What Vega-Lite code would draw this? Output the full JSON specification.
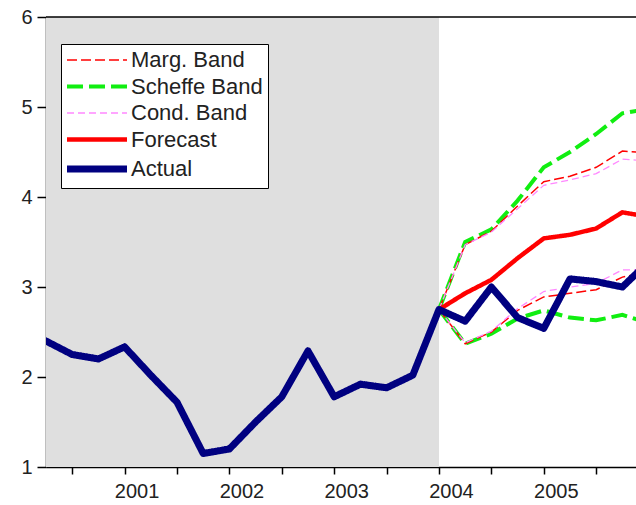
{
  "$schema": "https://vega.github.io/schema/vega-lite/v6.json",
  "width": 590,
  "height": 450,
  "autosize": {"type": "none"},
  "padding": {"left": 46, "top": 17, "right": 0, "bottom": 38},
  "background": "white",
  "config": {
    "view": {"stroke": null},
    "axisX": {"values": [2000.25, 2000.5, 2000.75, 2001, 2001.25, 2001.5, 2001.75, 2002, 2002.25, 2002.5, 2002.75, 2003, 2003.25, 2003.5, 2003.75, 2004, 2004.25, 2004.5, 2004.75, 2005, 2005.25, 2005.5, 2005.75],
      "labelExpr": "datum.value % 1 == 0 ? format(datum.value, 'd') : ''",
      "labelOffset": 12, "tickSize": 7, "labelPadding": 7, "labelFontSize": 20, "labelFont": "Liberation Sans", "labelColor": "#222",
      "domainColor": "black", "tickColor": "black", "domainWidth": 1.5, "tickWidth": 1.5, "grid": false, "title": null, "labelOverlap": false, "labelFlush": false},
    "axisY": {"values": [1, 2, 3, 4, 5, 6], "tickCount": 5, "format": "d", "labelExpr": "format(datum.value, 'd')", "tickSize": 9, "labelPadding": 5, "labelFontSize": 20, "labelFont": "Liberation Sans", "labelColor": "#222",
      "domainColor": "black", "tickColor": "black", "domainWidth": 1.5, "tickWidth": 1.5, "grid": false, "title": null, "labelOverlap": false, "labelFlush": false},
    "legend": {
      "orient": "none",
      "legendX": 15,
      "legendY": 27,
      "title": null,
      "symbolType": "M-2,0H10",
      "symbolSize": 100,
      "labelFont": "Liberation Sans",
      "labelFontSize": 22,
      "labelColor": "#222",
      "labelOffset": 43,
      "strokeColor": "black",
      "fillColor": "white",
      "padding": 5,
      "rowPadding": 4.5
    }
  },
  "datasets": {
    "shade": [{"a": 2000.25, "b": 2004.0}],
    "lines": [
      {"s": "Actual", "p": "a", "t": 2000.25, "v": 2.40},
      {"s": "Actual", "p": "a", "t": 2000.5, "v": 2.25},
      {"s": "Actual", "p": "a", "t": 2000.75, "v": 2.20},
      {"s": "Actual", "p": "a", "t": 2001.0, "v": 2.335},
      {"s": "Actual", "p": "a", "t": 2001.25, "v": 2.02},
      {"s": "Actual", "p": "a", "t": 2001.5, "v": 1.72},
      {"s": "Actual", "p": "a", "t": 2001.75, "v": 1.15},
      {"s": "Actual", "p": "a", "t": 2002.0, "v": 1.20},
      {"s": "Actual", "p": "a", "t": 2002.25, "v": 1.50},
      {"s": "Actual", "p": "a", "t": 2002.5, "v": 1.78},
      {"s": "Actual", "p": "a", "t": 2002.75, "v": 2.29},
      {"s": "Actual", "p": "a", "t": 2003.0, "v": 1.78},
      {"s": "Actual", "p": "a", "t": 2003.25, "v": 1.92},
      {"s": "Actual", "p": "a", "t": 2003.5, "v": 1.88},
      {"s": "Actual", "p": "a", "t": 2003.75, "v": 2.02},
      {"s": "Actual", "p": "a", "t": 2004.0, "v": 2.75},
      {"s": "Actual", "p": "a", "t": 2004.25, "v": 2.62},
      {"s": "Actual", "p": "a", "t": 2004.5, "v": 3.00},
      {"s": "Actual", "p": "a", "t": 2004.75, "v": 2.66},
      {"s": "Actual", "p": "a", "t": 2005.0, "v": 2.54},
      {"s": "Actual", "p": "a", "t": 2005.25, "v": 3.09},
      {"s": "Actual", "p": "a", "t": 2005.5, "v": 3.06},
      {"s": "Actual", "p": "a", "t": 2005.75, "v": 3.00},
      {"s": "Actual", "p": "a", "t": 2006.0, "v": 3.28},

      {"s": "Forecast", "p": "f", "t": 2004.0, "v": 2.75},
      {"s": "Forecast", "p": "f", "t": 2004.25, "v": 2.93},
      {"s": "Forecast", "p": "f", "t": 2004.5, "v": 3.08},
      {"s": "Forecast", "p": "f", "t": 2004.75, "v": 3.32},
      {"s": "Forecast", "p": "f", "t": 2005.0, "v": 3.54},
      {"s": "Forecast", "p": "f", "t": 2005.25, "v": 3.58},
      {"s": "Forecast", "p": "f", "t": 2005.5, "v": 3.65},
      {"s": "Forecast", "p": "f", "t": 2005.75, "v": 3.83},
      {"s": "Forecast", "p": "f", "t": 2006.0, "v": 3.78},

      {"s": "Scheffe Band", "p": "u", "t": 2004.0, "v": 2.75},
      {"s": "Scheffe Band", "p": "u", "t": 2004.25, "v": 3.50},
      {"s": "Scheffe Band", "p": "u", "t": 2004.5, "v": 3.64},
      {"s": "Scheffe Band", "p": "u", "t": 2004.75, "v": 3.96},
      {"s": "Scheffe Band", "p": "u", "t": 2005.0, "v": 4.33},
      {"s": "Scheffe Band", "p": "u", "t": 2005.25, "v": 4.50},
      {"s": "Scheffe Band", "p": "u", "t": 2005.5, "v": 4.70},
      {"s": "Scheffe Band", "p": "u", "t": 2005.75, "v": 4.93},
      {"s": "Scheffe Band", "p": "u", "t": 2006.0, "v": 4.98},
      {"s": "Scheffe Band", "p": "l", "t": 2004.0, "v": 2.75},
      {"s": "Scheffe Band", "p": "l", "t": 2004.25, "v": 2.37},
      {"s": "Scheffe Band", "p": "l", "t": 2004.5, "v": 2.48},
      {"s": "Scheffe Band", "p": "l", "t": 2004.75, "v": 2.65},
      {"s": "Scheffe Band", "p": "l", "t": 2005.0, "v": 2.74},
      {"s": "Scheffe Band", "p": "l", "t": 2005.25, "v": 2.66},
      {"s": "Scheffe Band", "p": "l", "t": 2005.5, "v": 2.63},
      {"s": "Scheffe Band", "p": "l", "t": 2005.75, "v": 2.69},
      {"s": "Scheffe Band", "p": "l", "t": 2006.0, "v": 2.60},

      {"s": "Marg. Band", "p": "u", "t": 2004.0, "v": 2.75},
      {"s": "Marg. Band", "p": "u", "t": 2004.25, "v": 3.47},
      {"s": "Marg. Band", "p": "u", "t": 2004.5, "v": 3.62},
      {"s": "Marg. Band", "p": "u", "t": 2004.75, "v": 3.90},
      {"s": "Marg. Band", "p": "u", "t": 2005.0, "v": 4.17},
      {"s": "Marg. Band", "p": "u", "t": 2005.25, "v": 4.23},
      {"s": "Marg. Band", "p": "u", "t": 2005.5, "v": 4.33},
      {"s": "Marg. Band", "p": "u", "t": 2005.75, "v": 4.51},
      {"s": "Marg. Band", "p": "u", "t": 2006.0, "v": 4.49},
      {"s": "Marg. Band", "p": "l", "t": 2004.0, "v": 2.75},
      {"s": "Marg. Band", "p": "l", "t": 2004.25, "v": 2.37},
      {"s": "Marg. Band", "p": "l", "t": 2004.5, "v": 2.50},
      {"s": "Marg. Band", "p": "l", "t": 2004.75, "v": 2.74},
      {"s": "Marg. Band", "p": "l", "t": 2005.0, "v": 2.89},
      {"s": "Marg. Band", "p": "l", "t": 2005.25, "v": 2.93},
      {"s": "Marg. Band", "p": "l", "t": 2005.5, "v": 2.97},
      {"s": "Marg. Band", "p": "l", "t": 2005.75, "v": 3.11},
      {"s": "Marg. Band", "p": "l", "t": 2006.0, "v": 3.17},

      {"s": "Cond. Band", "p": "u", "t": 2004.0, "v": 2.75},
      {"s": "Cond. Band", "p": "u", "t": 2004.25, "v": 3.47},
      {"s": "Cond. Band", "p": "u", "t": 2004.5, "v": 3.61},
      {"s": "Cond. Band", "p": "u", "t": 2004.75, "v": 3.87},
      {"s": "Cond. Band", "p": "u", "t": 2005.0, "v": 4.13},
      {"s": "Cond. Band", "p": "u", "t": 2005.25, "v": 4.19},
      {"s": "Cond. Band", "p": "u", "t": 2005.5, "v": 4.26},
      {"s": "Cond. Band", "p": "u", "t": 2005.75, "v": 4.42},
      {"s": "Cond. Band", "p": "u", "t": 2006.0, "v": 4.40},
      {"s": "Cond. Band", "p": "l", "t": 2004.0, "v": 2.75},
      {"s": "Cond. Band", "p": "l", "t": 2004.25, "v": 2.38},
      {"s": "Cond. Band", "p": "l", "t": 2004.5, "v": 2.51},
      {"s": "Cond. Band", "p": "l", "t": 2004.75, "v": 2.76},
      {"s": "Cond. Band", "p": "l", "t": 2005.0, "v": 2.95},
      {"s": "Cond. Band", "p": "l", "t": 2005.25, "v": 3.00},
      {"s": "Cond. Band", "p": "l", "t": 2005.5, "v": 3.04},
      {"s": "Cond. Band", "p": "l", "t": 2005.75, "v": 3.19},
      {"s": "Cond. Band", "p": "l", "t": 2006.0, "v": 3.19}
    ]
  },
  "layer": [
    {
      "data": {"name": "shade"},
      "mark": {"type": "rect", "color": "#dfdfdf"},
      "encoding": {
        "x": {"field": "a", "type": "quantitative", "scale": {"domain": [2000.25, 2005.88], "nice": false, "zero": false}},
        "x2": {"field": "b"}
      }
    },
    {
      "data": {"name": "shade"},
      "mark": {"type": "rule", "color": "black", "strokeWidth": 1.5},
      "encoding": {
        "y": {"datum": 6, "type": "quantitative", "scale": {"domain": [1, 6], "nice": false, "zero": false}}
      }
    },
    {
      "data": {"name": "lines"},
      "transform": [{"filter": "datum.p == 'u' || datum.p == 'l'"}],
      "mark": {"type": "line", "clip": true},
      "encoding": {
        "x": {"field": "t", "type": "quantitative", "scale": {"domain": [2000.25, 2005.88], "nice": false, "zero": false}},
        "y": {"field": "v", "type": "quantitative", "scale": {"domain": [1, 6], "nice": false, "zero": false}},
        "detail": {"field": "p"},
        "color": {"field": "s", "type": "nominal", "scale": {"domain": ["Marg. Band", "Scheffe Band", "Cond. Band", "Forecast", "Actual"], "range": ["#ff0000", "#11ee11", "#ff88ff", "#ff0000", "#000080"]}},
        "strokeDash": {"field": "s", "type": "nominal", "scale": {"domain": ["Marg. Band", "Scheffe Band", "Cond. Band", "Forecast", "Actual"], "range": [[10, 4], [16, 6], [7, 4], [1, 0], [1, 0]]}},
        "strokeWidth": {"field": "s", "type": "nominal", "scale": {"type": "ordinal", "domain": ["Marg. Band", "Scheffe Band", "Cond. Band", "Forecast", "Actual"], "range": [1.5, 4, 1.3, 4.5, 7]}}
      }
    },
    {
      "data": {"name": "lines"},
      "transform": [{"filter": "datum.p == 'f'"}],
      "mark": {"type": "line", "clip": true},
      "encoding": {
        "x": {"field": "t", "type": "quantitative", "scale": {"domain": [2000.25, 2005.88], "nice": false, "zero": false}},
        "y": {"field": "v", "type": "quantitative", "scale": {"domain": [1, 6], "nice": false, "zero": false}},
        "color": {"field": "s", "type": "nominal", "scale": {"domain": ["Marg. Band", "Scheffe Band", "Cond. Band", "Forecast", "Actual"], "range": ["#ff0000", "#11ee11", "#ff88ff", "#ff0000", "#000080"]}},
        "strokeDash": {"field": "s", "type": "nominal", "scale": {"domain": ["Marg. Band", "Scheffe Band", "Cond. Band", "Forecast", "Actual"], "range": [[10, 4], [16, 6], [7, 4], [1, 0], [1, 0]]}},
        "strokeWidth": {"field": "s", "type": "nominal", "scale": {"type": "ordinal", "domain": ["Marg. Band", "Scheffe Band", "Cond. Band", "Forecast", "Actual"], "range": [1.5, 4, 1.3, 4.5, 7]}}
      }
    },
    {
      "data": {"name": "lines"},
      "transform": [{"filter": "datum.p == 'a'"}],
      "mark": {"type": "line", "clip": true, "strokeCap": "round", "strokeJoin": "round"},
      "encoding": {
        "x": {"field": "t", "type": "quantitative", "scale": {"domain": [2000.25, 2005.88], "nice": false, "zero": false}},
        "y": {"field": "v", "type": "quantitative", "scale": {"domain": [1, 6], "nice": false, "zero": false}},
        "color": {"field": "s", "type": "nominal", "scale": {"domain": ["Marg. Band", "Scheffe Band", "Cond. Band", "Forecast", "Actual"], "range": ["#ff0000", "#11ee11", "#ff88ff", "#ff0000", "#000080"]}},
        "strokeDash": {"field": "s", "type": "nominal", "scale": {"domain": ["Marg. Band", "Scheffe Band", "Cond. Band", "Forecast", "Actual"], "range": [[10, 4], [16, 6], [7, 4], [1, 0], [1, 0]]}},
        "strokeWidth": {"field": "s", "type": "nominal", "scale": {"type": "ordinal", "domain": ["Marg. Band", "Scheffe Band", "Cond. Band", "Forecast", "Actual"], "range": [1.5, 4, 1.3, 4.5, 7]}}
      }
    }
  ]
}
